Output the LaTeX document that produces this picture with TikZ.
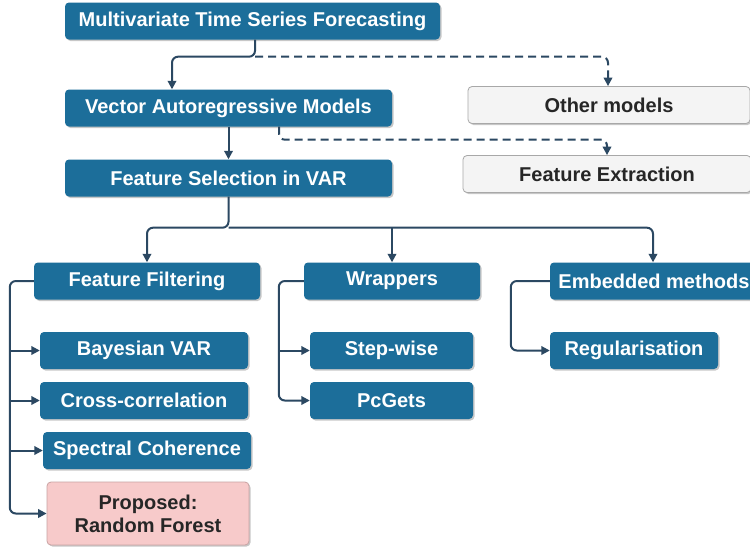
\documentclass[tikz,border=0pt]{standalone}
\usepackage{fontspec}
\setmainfont{Liberation Sans}
\usetikzlibrary{arrows.meta,shadows,calc}
\definecolor{myblue}{HTML}{1C6E9A}
\definecolor{conncol}{HTML}{2B4862}
\definecolor{greyfill}{HTML}{F4F4F4}
\definecolor{greyline}{HTML}{A8A8A8}
\definecolor{pinkfill}{HTML}{F7CACA}
\definecolor{pinkline}{HTML}{C9A3A3}
\definecolor{darktext}{HTML}{262626}
\tikzset{
  boxbase/.style={rectangle, rounded corners=4pt, inner sep=0pt, align=center,
    font=\bfseries\fontsize{20}{23}\selectfont,
    drop shadow={shadow xshift=1.5pt, shadow yshift=-1.5pt, fill=black, opacity=0.22}},
  bluebox/.style={boxbase, fill=myblue, text=white, minimum height=37pt},
  greybox/.style={boxbase, fill=greyfill, draw=greyline, line width=0.8pt, text=darktext, minimum height=37pt},
  pinkbox/.style={boxbase, fill=pinkfill, draw=pinkline, line width=0.8pt, text=darktext, minimum height=63pt},
  arr/.style={draw=conncol, line width=2pt, rounded corners=6pt, -{Triangle[length=8.5pt,width=8.5pt]}},
  dasharr/.style={arr, dash pattern=on 8pt off 5pt},
}
\begin{document}
\begin{tikzpicture}[x=1pt,y=-1pt]
\useasboundingbox (0,0) rectangle (750,550);
\clip (0,0) rectangle (750,550);
\fill[white] (0,0) rectangle (750,550);

\node[bluebox, minimum width=375pt] (mts) at (252.5,21) {Multivariate Time Series Forecasting};
\node[bluebox, minimum width=327pt] (var) at (228.5,108) {Vector Autoregressive Models};
\node[greybox, minimum width=282pt] (om) at (609,105) {Other models};
\node[bluebox, minimum width=327pt] (fs) at (228.5,178) {Feature Selection in VAR};
\node[greybox, minimum width=288pt] (fe) at (607,174) {Feature Extraction};

\node[bluebox, minimum width=226pt] (ff) at (147,281) {Feature Filtering};
\node[bluebox, minimum width=176pt] (wr) at (392,281) {Wrappers};
\node[bluebox, minimum width=208pt] (em) at (654,281) {Embedded methods};

\node[bluebox, minimum width=208pt] (bv) at (144,350.5) {Bayesian VAR};
\node[bluebox, minimum width=208pt] (cc) at (144,400.5) {Cross-correlation};
\node[bluebox, minimum width=208pt] (sc) at (147,450.5) {Spectral Coherence};
\node[pinkbox, minimum width=202pt] (rf) at (148,513.5) {Proposed:\\Random Forest};

\node[bluebox, minimum width=163pt] (sw) at (391.5,350.5) {Step-wise};
\node[bluebox, minimum width=163pt] (pg) at (391.5,400.5) {PcGets};
\node[bluebox, minimum width=168pt] (rg) at (634,350.5) {Regularisation};

\coordinate (j1) at ($(mts.south)+(2.5,17)$);
\coordinate (j2) at ($(fs.south)+(0,31)$);
\coordinate (fbx) at ($(ff.west)+(-24,0)$);
\coordinate (wbx) at ($(wr.west)+(-25,0)$);

% top connectors
\draw[arr] ([xshift=2.5]mts.south) -- (j1) -| ([xshift=-56.5]var.north);
\draw[dasharr] (j1) -| ([xshift=-1]om.north);
\draw[arr] (var.south) -- (fs.north);
\draw[dasharr] ([xshift=50.5]var.south) |- ++(20,13) -| (fe.north);

% tree
\draw[arr] (fs.south) -- (j2) -| (ff.north);
\draw[arr] (j2) -| ([xshift=-1]em.north);
\draw[arr] (j2 -| wr.north) -- (wr.north);

% brackets
\draw[arr] (ff.west) -- (fbx) |- (rf.west);
\draw[arr] (fbx |- bv.west) -- (bv.west);
\draw[arr] (fbx |- cc.west) -- (cc.west);
\draw[arr] (fbx |- sc.west) -- (sc.west);

\draw[arr] (wr.west) -- (wbx) |- (pg.west);
\draw[arr] (wbx |- sw.west) -- (sw.west);

\draw[arr] (em.west) -- ++(-39,0) |- (rg.west);
\end{tikzpicture}
\end{document}
